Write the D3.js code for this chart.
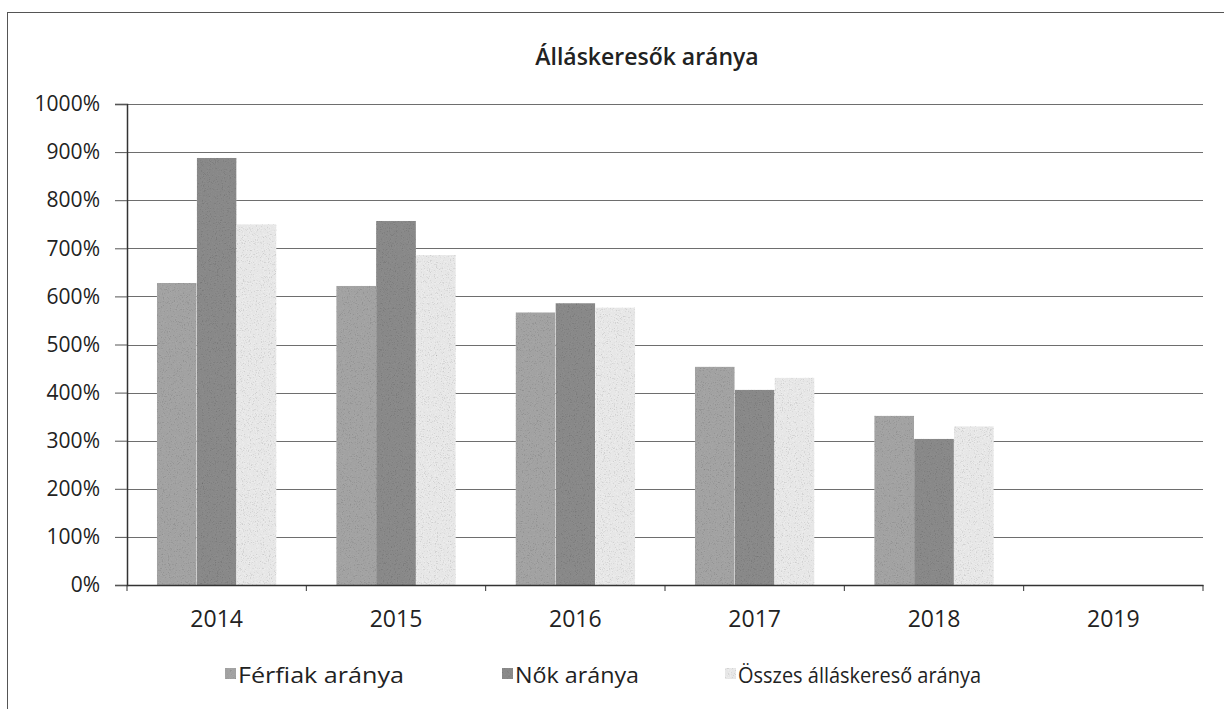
<!DOCTYPE html>
<html>
<head>
<meta charset="utf-8">
<script src="https://cdn.jsdelivr.net/npm/d3@7"></script>
<style>
body { margin: 0; background: #fff; }
text { font-family: "Open Sans", "Noto Sans", sans-serif; fill: #222; }
</style>
</head>
<body>
<div id="chart"></div>
<script>
var w = 1224;
var h = 709;

// data
var years = ["2014", "2015", "2016", "2017", "2018", "2019"];
var seriesNames = ["Férfiak aránya", "Nők aránya", "Összes álláskereső aránya"];
var ferfiak = [6.28, 6.22, 5.67, 4.54, 3.52, 0];
var nok = [8.88, 7.57, 5.86, 4.06, 3.04, 0];
var osszes = [7.50, 6.86, 5.77, 4.31, 3.30, 0];
var yTicks = [0, 1, 2, 3, 4, 5, 6, 7, 8, 9, 10];

var seriesValues = [ferfiak, nok, osszes];
var seriesFill = ["#a6a6a6", "#8c8c8c", "#ececec"];

var svg = d3.select("#chart")
    .append("svg")
    .attr("width", w)
    .attr("height", h);

// grainy look like the scan
var defs = svg.append("defs");
var grain = defs.append("filter").attr("id", "grain")
    .attr("x", 0).attr("y", 0).attr("width", 1).attr("height", 1);
grain.append("feTurbulence")
    .attr("type", "fractalNoise")
    .attr("baseFrequency", 0.85)
    .attr("numOctaves", 2)
    .attr("seed", 4)
    .attr("result", "noise");
grain.append("feColorMatrix")
    .attr("in", "noise")
    .attr("type", "saturate")
    .attr("values", 0)
    .attr("result", "gray");
var ct = grain.append("feComponentTransfer").attr("in", "gray").attr("result", "specks");
["feFuncR", "feFuncG", "feFuncB"].forEach(function(f) {
    ct.append(f).attr("type", "discrete").attr("tableValues", "0.35 0.65 0.9 1 1");
});
grain.append("feBlend")
    .attr("in", "SourceGraphic")
    .attr("in2", "specks")
    .attr("mode", "multiply")
    .attr("result", "mixed");
grain.append("feComposite")
    .attr("in", "mixed")
    .attr("in2", "SourceGraphic")
    .attr("operator", "in");

// chart frame
svg.append("rect")
    .attr("x", 7.5)
    .attr("y", 12.5)
    .attr("width", w)
    .attr("height", h)
    .attr("fill", "none")
    .attr("stroke", "#555")
    .attr("stroke-width", 1);

var plotLeft = 127, plotRight = 1203, plotTop = 104, plotBottom = 585;

var x = d3.scaleBand()
    .domain(years)
    .range([plotLeft, plotRight])
    .paddingInner(0)
    .paddingOuter(0);

var inner = d3.scaleBand()
    .domain(d3.range(seriesNames.length))
    .range([0, x.bandwidth()])
    .paddingOuter(0.75)
    .paddingInner(0);

var y = d3.scaleLinear()
    .domain([0, 10])
    .range([plotBottom, plotTop]);

// gridlines
svg.append("g")
    .attr("class", "grid")
    .selectAll("line")
    .data(yTicks)
    .enter().append("line")
    .attr("x1", plotLeft)
    .attr("x2", plotRight)
    .attr("y1", function(d) { return Math.round(y(d)) + 0.5; })
    .attr("y2", function(d) { return Math.round(y(d)) + 0.5; })
    .attr("stroke", "#6e6e6e")
    .attr("stroke-width", 1);

// bars
var groups = svg.append("g")
    .attr("class", "bars")
    .selectAll("g")
    .data(seriesValues)
    .enter().append("g")
    .attr("fill", function(d, i) { return seriesFill[i]; })
    .attr("filter", "url(#grain)");

groups.each(function(vals, si) {
    d3.select(this).selectAll("rect")
        .data(vals)
        .enter().append("rect")
        .attr("x", function(d, i) { return x(years[i]) + inner(si); })
        .attr("width", inner.bandwidth())
        .attr("y", function(d) { return y(d); })
        .attr("height", function(d) { return y(0) - y(d); });
});

// y axis
var yAxis = svg.append("g")
    .attr("class", "y-axis")
    .attr("transform", "translate(" + plotLeft + ",0)")
    .call(d3.axisLeft(y)
        .tickValues(yTicks)
        .tickSize(12)
        .tickPadding(15)
        .tickFormat(function(d) { return (d * 100) + "%"; }));
yAxis.selectAll("text").style("font-size", "21px");

// x axis
var xAxis = svg.append("g")
    .attr("class", "x-axis")
    .attr("transform", "translate(0," + plotBottom + ")")
    .call(d3.axisBottom(x).tickSize(0).tickPadding(26));
xAxis.selectAll("text").style("font-size", "23px");

// tick marks between categories
xAxis.selectAll(".sep")
    .data(d3.range(years.length + 1))
    .enter().append("line")
    .attr("class", "sep")
    .attr("x1", function(i) { return plotLeft + i * x.bandwidth(); })
    .attr("x2", function(i) { return plotLeft + i * x.bandwidth(); })
    .attr("y1", 0)
    .attr("y2", 6)
    .attr("stroke", "#333");

svg.selectAll(".domain").attr("stroke", "#333").attr("stroke-width", 1.5);
svg.selectAll(".y-axis .tick line").attr("stroke", "#555");
svg.selectAll(".tick text")
    .style("font-family", "'Open Sans', sans-serif")
    .attr("fill", "#222");

// title
svg.append("text")
    .attr("x", 647)
    .attr("y", 65)
    .attr("text-anchor", "middle")
    .style("font-size", "23px")
    .style("font-weight", "600")
    .text("Álláskeresők aránya");

// legend
var legendX = [225, 502, 725];
var legendLen = [166, 124, 243];
var legend = svg.append("g").attr("class", "legend");
seriesNames.forEach(function(name, i) {
    legend.append("rect")
        .attr("x", legendX[i])
        .attr("y", 668)
        .attr("width", 11)
        .attr("height", 11)
        .attr("fill", seriesFill[i])
        .attr("filter", "url(#grain)");
    legend.append("text")
        .attr("x", legendX[i] + 13)
        .attr("y", 683)
        .attr("textLength", legendLen[i])
        .attr("lengthAdjust", "spacingAndGlyphs")
        .style("font-size", "21px")
        .text(name);
});
</script>
</body>
</html>
